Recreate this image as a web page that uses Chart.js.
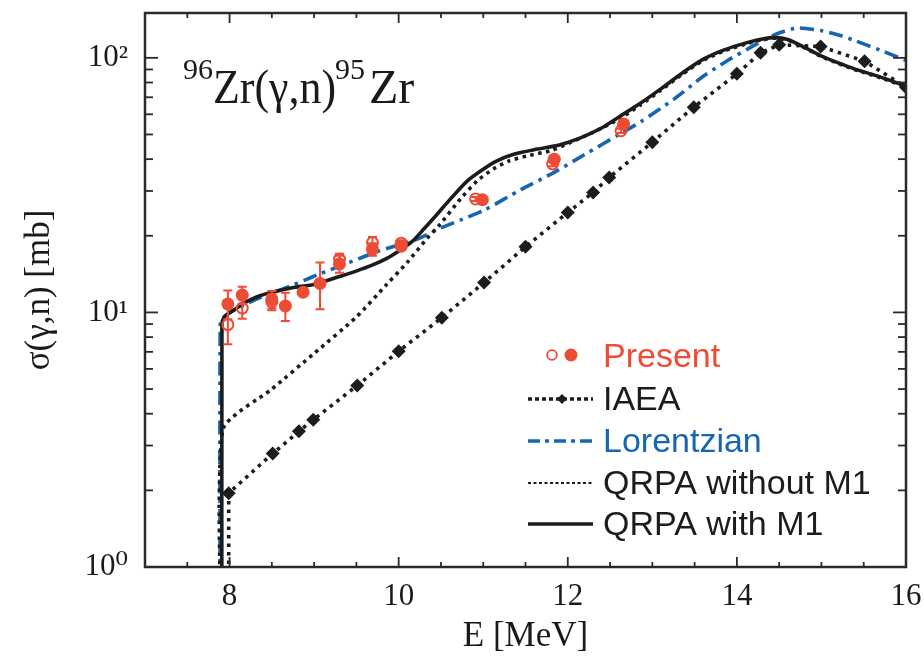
<!DOCTYPE html>
<html><head><meta charset="utf-8">
<script src="https://cdn.jsdelivr.net/npm/chart.js@4/dist/chart.umd.min.js"></script>
<style>html,body{margin:0;padding:0;background:#fff}#wrap{width:924px;height:660px;position:relative}</style>
</head><body><div id="wrap"><canvas id="c"></canvas></div>
<script>
// ---------- data ----------
const presentFilledE = [7.98, 8.15, 8.50, 8.66, 8.87, 9.07, 9.30, 9.69, 10.03, 10.99, 11.84, 12.66];
const presentFilledS = [10.8, 11.7, 11.25, 10.6, 12.0, 13.0, 15.5, 17.7, 18.2, 27.7, 40.0, 55.0];
const presentFilledErr = [1.4, 0.9, 0.9, 1.35, 0.3, 2.7, 1.2, 1.0, 0.5, 0.5, 1.0, 1.5];
const presentOpenE = [7.98, 8.15, 8.50, 9.30, 9.69, 10.03, 10.91, 11.82, 12.63];
const presentOpenS = [8.95, 10.4, 11.0, 16.2, 18.8, 18.7, 27.9, 38.3, 51.7];
const presentOpenErr = [1.45, 0.95, 0.8, 0.8, 1.0, 0.5, 0.5, 0.8, 1.0];

const iaeaE = [7.99, 8.51, 8.82, 8.99, 9.51, 10.0, 10.51, 11.01, 11.5, 12.0, 12.3, 12.49, 13.0, 13.49, 14.0, 14.28, 14.5, 14.99, 15.51, 16.0];
const iaeaS = [1.95, 2.79, 3.41, 3.79, 5.16, 7.04, 9.53, 13.1, 18.1, 24.7, 29.6, 33.9, 46.6, 64, 86.5, 104.6, 112.5, 110.8, 97, 76.7];

const lorE = [7.89, 7.93, 8.0, 8.1, 8.3, 8.5, 8.72, 8.89, 9.05, 9.39, 9.74, 10.0, 10.22, 10.49, 10.75, 11.01, 11.44, 11.84, 12.19, 12.63, 12.86, 13.26, 13.61, 13.9, 14.13, 14.35, 14.52, 14.72, 14.99, 15.2, 15.39, 15.7, 16.0];
const lorS = [9.0, 9.6, 10.0, 10.4, 11.2, 11.9, 12.7, 13.4, 14.1, 15.6, 17.3, 18.4, 19.4, 21.4, 23.2, 25.2, 30.3, 35.5, 41.5, 50.5, 56, 69, 85, 98, 108.5, 119, 126, 131, 128, 123, 117, 107, 97.7];

const noM1E = [7.92, 8.5, 9.0, 9.5, 9.86, 10.1, 10.34, 10.49, 10.73, 10.93, 11.12, 11.3, 11.52, 11.8, 12.03, 12.3, 12.63, 12.85, 13.1, 13.35, 13.61, 13.85, 14.13, 14.3, 14.45, 14.6, 14.8, 14.99, 15.2, 15.39, 15.7, 16.0];
const noM1S = [3.46, 5.0, 6.9, 9.6, 12.9, 15.7, 19.6, 22.2, 27.9, 32.9, 36.6, 39.3, 41.2, 43.2, 46.5, 51, 58, 65, 74.5, 86, 98, 106.5, 114, 118, 119.5, 117.5, 109.5, 101.5, 95, 90, 83.5, 77];

const withM1E = [7.91, 7.93, 7.97, 8.03, 8.12, 8.22, 8.35, 8.50, 8.74, 9.01, 9.29, 9.49, 9.70, 9.86, 10.02, 10.16, 10.30, 10.45, 10.60, 10.81, 11.0, 11.15, 11.36, 11.64, 11.9, 12.15, 12.4, 12.63, 12.85, 13.1, 13.35, 13.61, 13.85, 14.13, 14.3, 14.45, 14.6, 14.8, 14.99, 15.2, 15.39, 15.7, 16.0];
const withM1S = [9.0, 9.5, 9.8, 10.1, 10.6, 11.1, 11.6, 12.0, 12.5, 12.9, 13.8, 14.5, 15.4, 16.3, 17.6, 19.0, 21.3, 24.2, 27.6, 32.8, 36.5, 39.2, 41.8, 43.8, 45.5, 48.5, 53, 59.3, 66, 75.5, 87, 99, 107.5, 115, 118.5, 120, 118, 110, 102, 95.5, 90.5, 84, 77.5];

const floorS = 0.3; // curves drop below the axis at their threshold
const xTickLabels = [8, 10, 12, 14, 16];
const supDigits = ['\u2070', '\u00b9', '\u00b2'];

// ---------- styles ----------
const RED = '#ee4b35', BLUE = '#1665b1', BLACK = '#1c1c1c';
const pts = (E, S) => E.map((e, i) => ({x: e, y: S[i]}));
const drop = (E) => [{x: E[0], y: floorS}];

const styleIAEA = {borderColor: BLACK, borderWidth: 3.6, borderDash: [3.5, 5]};
const styleLor = {borderColor: BLUE, borderWidth: 3.6, borderDash: [14, 6, 3.5, 6]};
const styleNoM1 = {borderColor: BLACK, borderWidth: 3.6, borderDash: [3.5, 4.5]};
const styleWithM1 = {borderColor: BLACK, borderWidth: 3.6, borderDash: []};

const datasets = [
  {label: 'Present filled', data: pts(presentFilledE, presentFilledS), err: presentFilledErr,
   showLine: false, pointStyle: 'circle', pointRadius: 6.5, backgroundColor: RED, borderColor: RED, borderWidth: 0},
  {label: 'Present open', data: pts(presentOpenE, presentOpenS), err: presentOpenErr,
   showLine: false, pointStyle: 'circle', pointRadius: 5.5, backgroundColor: 'rgba(255,255,255,0)', borderColor: RED, borderWidth: 2},
  Object.assign({label: 'QRPA with M1', data: drop(withM1E).concat(pts(withM1E, withM1S)), showLine: true, pointRadius: 0, tension: 0.25}, styleWithM1),
  Object.assign({label: 'QRPA without M1', data: drop(noM1E).concat(pts(noM1E, noM1S)), showLine: true, pointRadius: 0, tension: 0.2}, styleNoM1),
  Object.assign({label: 'IAEA', data: drop(iaeaE).concat(pts(iaeaE, iaeaS)), showLine: true, tension: 0,
   pointStyle: 'rectRot', pointRadius: [0].concat(iaeaE.map(() => 7)), backgroundColor: BLACK, pointBorderWidth: 0}, styleIAEA),
  Object.assign({label: 'Lorentzian', data: drop(lorE).concat(pts(lorE, lorS)), showLine: true, pointRadius: 0, tension: 0.25}, styleLor)
];

// ---------- plugins ----------
const frameTicks = {
  id: 'frameTicks',
  afterDraw(chart) {
    const {ctx, chartArea: a, scales: {x, y}} = chart;
    ctx.save();
    ctx.strokeStyle = '#2a2a2a';
    ctx.lineWidth = 1.8;
    const seg = (x1, y1, x2, y2) => { ctx.beginPath(); ctx.moveTo(x1, y1); ctx.lineTo(x2, y2); ctx.stroke(); };
    for (let v = x.min; v <= x.max + 1e-9; v += 0.5) {
      const px = x.getPixelForValue(v);
      const L = xTickLabels.includes(v) || Number.isInteger(v / 2) ? 10 : 5;
      seg(px, a.bottom, px, a.bottom - L);
      seg(px, a.top, px, a.top + L);
    }
    for (let d = 0; d <= 2; d++) {
      for (let k = 1; k <= 9; k++) {
        const v = k * Math.pow(10, d);
        if (v > y.max) break;
        const py = y.getPixelForValue(v);
        const L = k === 1 ? 13 : 8;
        seg(a.left, py, a.left + L, py);
        seg(a.right, py, a.right - L, py);
      }
    }
    ctx.lineWidth = 2.5;
    ctx.strokeRect(a.left, a.top, a.right - a.left, a.bottom - a.top);
    ctx.restore();
  }
};

const errorBars = {
  id: 'errorBars',
  afterDatasetsDraw(chart) {
    const {ctx, scales: {x, y}} = chart;
    ctx.save();
    ctx.strokeStyle = RED;
    ctx.lineWidth = 2;
    chart.data.datasets.forEach(ds => {
      if (!ds.err) return;
      ds.data.forEach((p, i) => {
        const e = ds.err[i];
        const px = x.getPixelForValue(p.x);
        const yt = y.getPixelForValue(p.y + e), yb = y.getPixelForValue(p.y - e);
        ctx.beginPath();
        ctx.moveTo(px, yt); ctx.lineTo(px, yb);
        ctx.moveTo(px - 4.5, yt); ctx.lineTo(px + 4.5, yt);
        ctx.moveTo(px - 4.5, yb); ctx.lineTo(px + 4.5, yb);
        ctx.stroke();
      });
    });
    ctx.restore();
  }
};

const annot = {
  id: 'annot',
  afterDraw(chart) {
    const ctx = chart.ctx;
    ctx.save();
    // reaction label
    ctx.fillStyle = '#1a1a1a';
    ctx.textBaseline = 'alphabetic';
    ctx.textAlign = 'left';
    ctx.font = '30px "Liberation Serif", "DejaVu Serif", serif';
    ctx.fillText('96', 183, 79);
    ctx.font = '48px "Liberation Serif", "DejaVu Serif", serif';
    ctx.fillText('Zr(\u03b3,n)', 213, 103, 123);
    ctx.font = '30px "Liberation Serif", "DejaVu Serif", serif';
    ctx.fillText('95', 335, 79);
    ctx.font = '48px "Liberation Serif", "DejaVu Serif", serif';
    ctx.fillText('Zr', 369, 103);

    // legend
    const tx = 603, x1 = 528, x2 = 593;
    ctx.font = '34px "Liberation Sans", Arial, sans-serif';
    ctx.strokeStyle = RED; ctx.lineWidth = 1.8;
    ctx.beginPath(); ctx.arc(552, 355, 4.8, 0, Math.PI * 2); ctx.stroke();
    ctx.fillStyle = RED;
    ctx.beginPath(); ctx.arc(571, 355, 6.5, 0, Math.PI * 2); ctx.fill();
    ctx.fillText('Present', tx, 367);
    const rows = [
      {label: 'IAEA', y: 399, s: styleIAEA, color: BLACK, dash: [4, 3], diamond: true},
      {label: 'Lorentzian', y: 441, s: styleLor, color: BLUE, dash: [12, 5, 4, 5]},
      {label: 'QRPA without M1', y: 483, s: styleNoM1, color: BLACK, dash: [3, 2.5], lw: 2},
      {label: 'QRPA with M1', y: 524, s: styleWithM1, color: BLACK, dash: []}
    ];
    rows.forEach(r => {
      ctx.strokeStyle = r.s.borderColor;
      ctx.lineWidth = r.lw || r.s.borderWidth;
      ctx.setLineDash(r.dash);
      ctx.beginPath(); ctx.moveTo(x1, r.y); ctx.lineTo(x2, r.y); ctx.stroke();
      ctx.setLineDash([]);
      if (r.diamond) {
        ctx.fillStyle = BLACK;
        ctx.beginPath();
        ctx.moveTo(562, r.y - 5); ctx.lineTo(567, r.y); ctx.lineTo(562, r.y + 5); ctx.lineTo(557, r.y);
        ctx.closePath(); ctx.fill();
      }
      ctx.fillStyle = r.color;
      ctx.fillText(r.label, tx, r.y + 11);
    });
    ctx.restore();
  }
};

// ---------- chart ----------
new Chart(document.getElementById('c'), {
  type: 'scatter',
  data: {datasets},
  plugins: [errorBars, frameTicks, annot],
  options: {
    responsive: true,
    maintainAspectRatio: false,
    animation: false,
    devicePixelRatio: 1,
    layout: {padding: {left: 0, top: 13, right: 18, bottom: 0}},
    plugins: {legend: {display: false}, tooltip: {enabled: false}},
    scales: {
      x: {
        type: 'linear', min: 7, max: 16,
        grid: {display: false}, border: {display: false},
        ticks: {
          stepSize: 0.5, autoSkip: false, maxRotation: 0, padding: 3, color: '#1a1a1a',
          font: {family: '"Liberation Serif", "DejaVu Serif", serif', size: 31},
          callback: v => xTickLabels.includes(v) ? String(v) : ''
        },
        title: {display: true, text: 'E [MeV]', color: '#1a1a1a', padding: {top: 0, bottom: 6},
          font: {family: '"Liberation Serif", "DejaVu Serif", serif', size: 35, lineHeight: 1}},
        afterFit: s => { s.height = 93; s.paddingLeft = 0; s.paddingRight = 0; }
      },
      y: {
        type: 'logarithmic', min: 1, max: 150,
        grid: {display: false}, border: {display: false},
        ticks: {
          autoSkip: false, padding: 9, color: '#1a1a1a',
          font: {family: '"Liberation Serif", "DejaVu Serif", serif', size: 31},
          callback: v => {
            const l = Math.log10(v);
            return Math.abs(l - Math.round(l)) < 1e-9 ? '10' + supDigits[Math.round(l)] : '';
          }
        },
        title: {display: true, text: '\u03c3(\u03b3,n) [mb]', color: '#1a1a1a', padding: {top: 22, bottom: 0},
          font: {family: '"Liberation Serif", "DejaVu Serif", serif', size: 35, lineHeight: 1}},
        afterFit: s => { s.width = 145; s.paddingTop = 0; s.paddingBottom = 0; }
      }
    }
  }
});
</script>
</body></html>
